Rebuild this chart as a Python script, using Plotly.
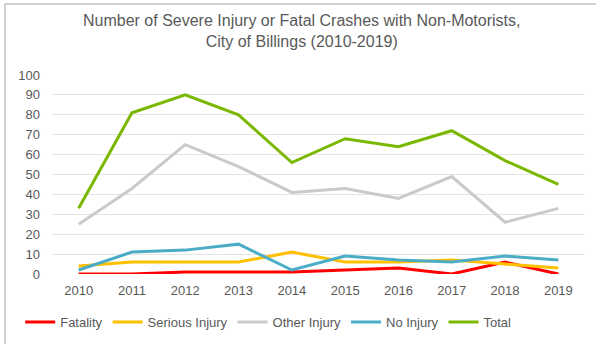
import plotly.graph_objects as go

years = ["2010", "2011", "2012", "2013", "2014", "2015", "2016", "2017", "2018", "2019"]
fatality = [0, 0, 1, 1, 1, 2, 3, 0, 6, 0]
serious_injury = [4, 6, 6, 6, 11, 6, 6, 7, 5, 3]
other_injury = [25, 43, 65, 54, 41, 43, 38, 49, 26, 33]
no_injury = [2, 11, 12, 15, 2, 9, 7, 6, 9, 7]
total = [33, 81, 90, 80, 56, 68, 64, 72, 57, 45]

series = [
    ("Fatality", fatality, "#FF0000"),
    ("Serious Injury", serious_injury, "#FFC000"),
    ("Other Injury", other_injury, "#C8CBCB"),
    ("No Injury", no_injury, "#4BACC6"),
    ("Total", total, "#7AB800"),
]

W, H = 596, 344
L, R, T, B = 52, 11, 75, 70
pw, ph = W - L - R, H - T - B

def px_x(p):
    return (p - L) / pw

def px_y(p):
    return (H - B - p) / ph

fig = go.Figure()
for name, vals, color in series:
    fig.add_trace(go.Scatter(
        x=years, y=vals, name=name, mode="lines",
        line=dict(color=color, width=3),
    ))

grey = "#595959"
title_text = "Number of Severe Injury or Fatal Crashes with Non-Motorists,<br>City of Billings (2010-2019)"

fig.update_layout(
    width=W, height=H,
    margin=dict(l=L, r=R, t=T, b=B, autoexpand=False),
    paper_bgcolor="white", plot_bgcolor="white",
    font=dict(family="Liberation Sans, Arial, sans-serif", color=grey, size=13),
    xaxis=dict(
        type="category", range=[-0.5, 9.5], showgrid=False,
        showline=False, ticks="", tickfont=dict(size=13, color=grey),
        ticklabelstandoff=7, automargin=False,
    ),
    yaxis=dict(
        range=[0, 100], dtick=10, showgrid=True, gridcolor="#E4E4E4",
        gridwidth=1, zeroline=False, showline=False, ticks="",
        tickfont=dict(size=13, color=grey), ticklabelstandoff=11,
        automargin=False,
    ),
    legend=dict(
        orientation="h", x=0.45, xanchor="center", xref="container",
        y=1 - 322 / H, yanchor="middle", yref="container",
        font=dict(size=13, color=grey), itemwidth=30, tracegroupgap=0,
    ),
    showlegend=True,
    annotations=[
        dict(text=title_text, xref="paper", yref="paper",
             x=px_x(301), y=px_y(31), xanchor="center", yanchor="middle",
             showarrow=False, font=dict(size=16, color=grey)),
    ],
    shapes=[
        dict(type="line", xref="paper", yref="paper",
             x0=px_x(5), x1=px_x(5), y0=px_y(4), y1=px_y(H),
             line=dict(color="#C0C0C0", width=1.5)),
        dict(type="line", xref="paper", yref="paper",
             x0=px_x(5), x1=px_x(W), y0=px_y(4), y1=px_y(4),
             line=dict(color="#C0C0C0", width=1.5)),
    ],
)

fig.write_html("out.html")
